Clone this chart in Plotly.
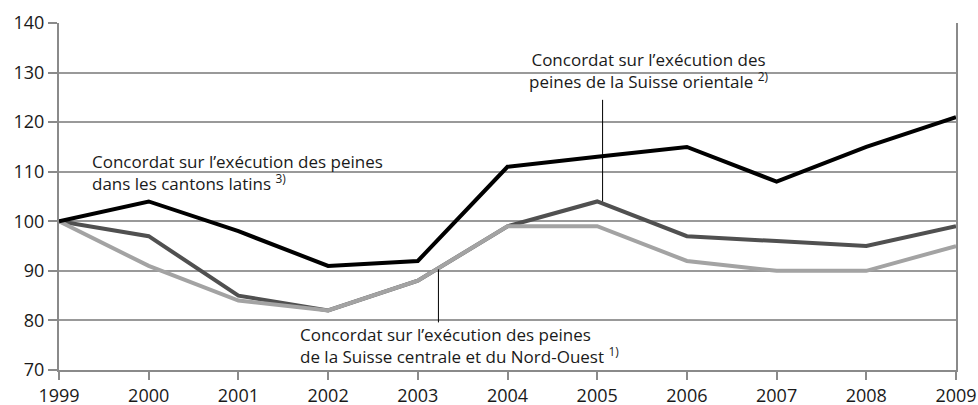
import plotly.graph_objects as go

years = [1999, 2000, 2001, 2002, 2003, 2004, 2005, 2006, 2007, 2008, 2009]
latins = [100, 104, 98, 91, 92, 111, 113, 115, 108, 115, 121]
orientale = [100, 97, 85, 82, 88, 99, 104, 97, 96, 95, 99]
centrale = [100, 91, 84, 82, 88, 99, 99, 92, 90, 90, 95]

y_ticks = [70, 80, 90, 100, 110, 120, 130, 140]

FONT = "Open Sans"
fig = go.Figure()
fig.add_trace(go.Scatter(x=years, y=orientale, mode="lines",
                         line=dict(color="#505050", width=4), name="orientale"))
fig.add_trace(go.Scatter(x=years, y=centrale, mode="lines",
                         line=dict(color="#a3a3a3", width=4), name="centrale"))
fig.add_trace(go.Scatter(x=years, y=latins, mode="lines",
                         line=dict(color="#000000", width=4), name="latins"))

ann_font = dict(family=FONT, size=17, color="#1a1a1a")
fig.add_annotation(x=2005.57, y=130.5, xref="x", yref="y", showarrow=False,
                   text="Concordat sur l’exécution des<br>peines de la Suisse orientale <sup>2)</sup>",
                   align="center", font=ann_font)
fig.add_annotation(x=1999.35, y=109.9, xref="x", yref="y", showarrow=False,
                   xanchor="left",
                   text="Concordat sur l’exécution des peines<br>dans les cantons latins <sup>3)</sup>",
                   align="left", font=ann_font)
fig.add_annotation(x=2001.66, y=75.0, xref="x", yref="y", showarrow=False,
                   xanchor="left",
                   text="Concordat sur l’exécution des peines<br>de la Suisse centrale et du Nord-Ouest <sup>1)</sup>",
                   align="left", font=ann_font)

fig.add_shape(type="line", xref="x", yref="y", x0=2005.06, x1=2005.06, y0=124.5, y1=104,
              line=dict(color="#000000", width=1))
fig.add_shape(type="line", xref="x", yref="y", x0=2003.23, x1=2003.23, y0=90.3, y1=79.6,
              line=dict(color="#000000", width=1))

fig.update_layout(
    width=978, height=405,
    margin=dict(l=59, r=22, t=23, b=35),
    paper_bgcolor="white", plot_bgcolor="white",
    showlegend=False,
    font=dict(family=FONT, size=18, color="#1a1a1a"),
)
fig.update_xaxes(range=[1999, 2009], tickvals=years, ticktext=[str(y) for y in years],
                 automargin=False,
                 showgrid=False, showline=True, linecolor="#8a8a8a", linewidth=2,
                 ticks="outside", ticklen=8, tickcolor="#8a8a8a", tickwidth=1.5,
                 tickfont=dict(family=FONT, size=18, color="#1a1a1a"), zeroline=False)
fig.update_yaxes(range=[70, 140], tickvals=y_ticks, automargin=False,
                 showgrid=True, gridcolor="#999999", gridwidth=1.5,
                 showline=True, mirror=True, linecolor="#8a8a8a", linewidth=2,
                 ticks="outside", ticklen=9, tickcolor="#8a8a8a", tickwidth=1.5,
                 tickfont=dict(family=FONT, size=18, color="#1a1a1a"), zeroline=False)

fig.write_html("out.html", config={"displayModeBar": False},
               post_script="document.body.style.margin='0';document.body.style.overflow='hidden';")
